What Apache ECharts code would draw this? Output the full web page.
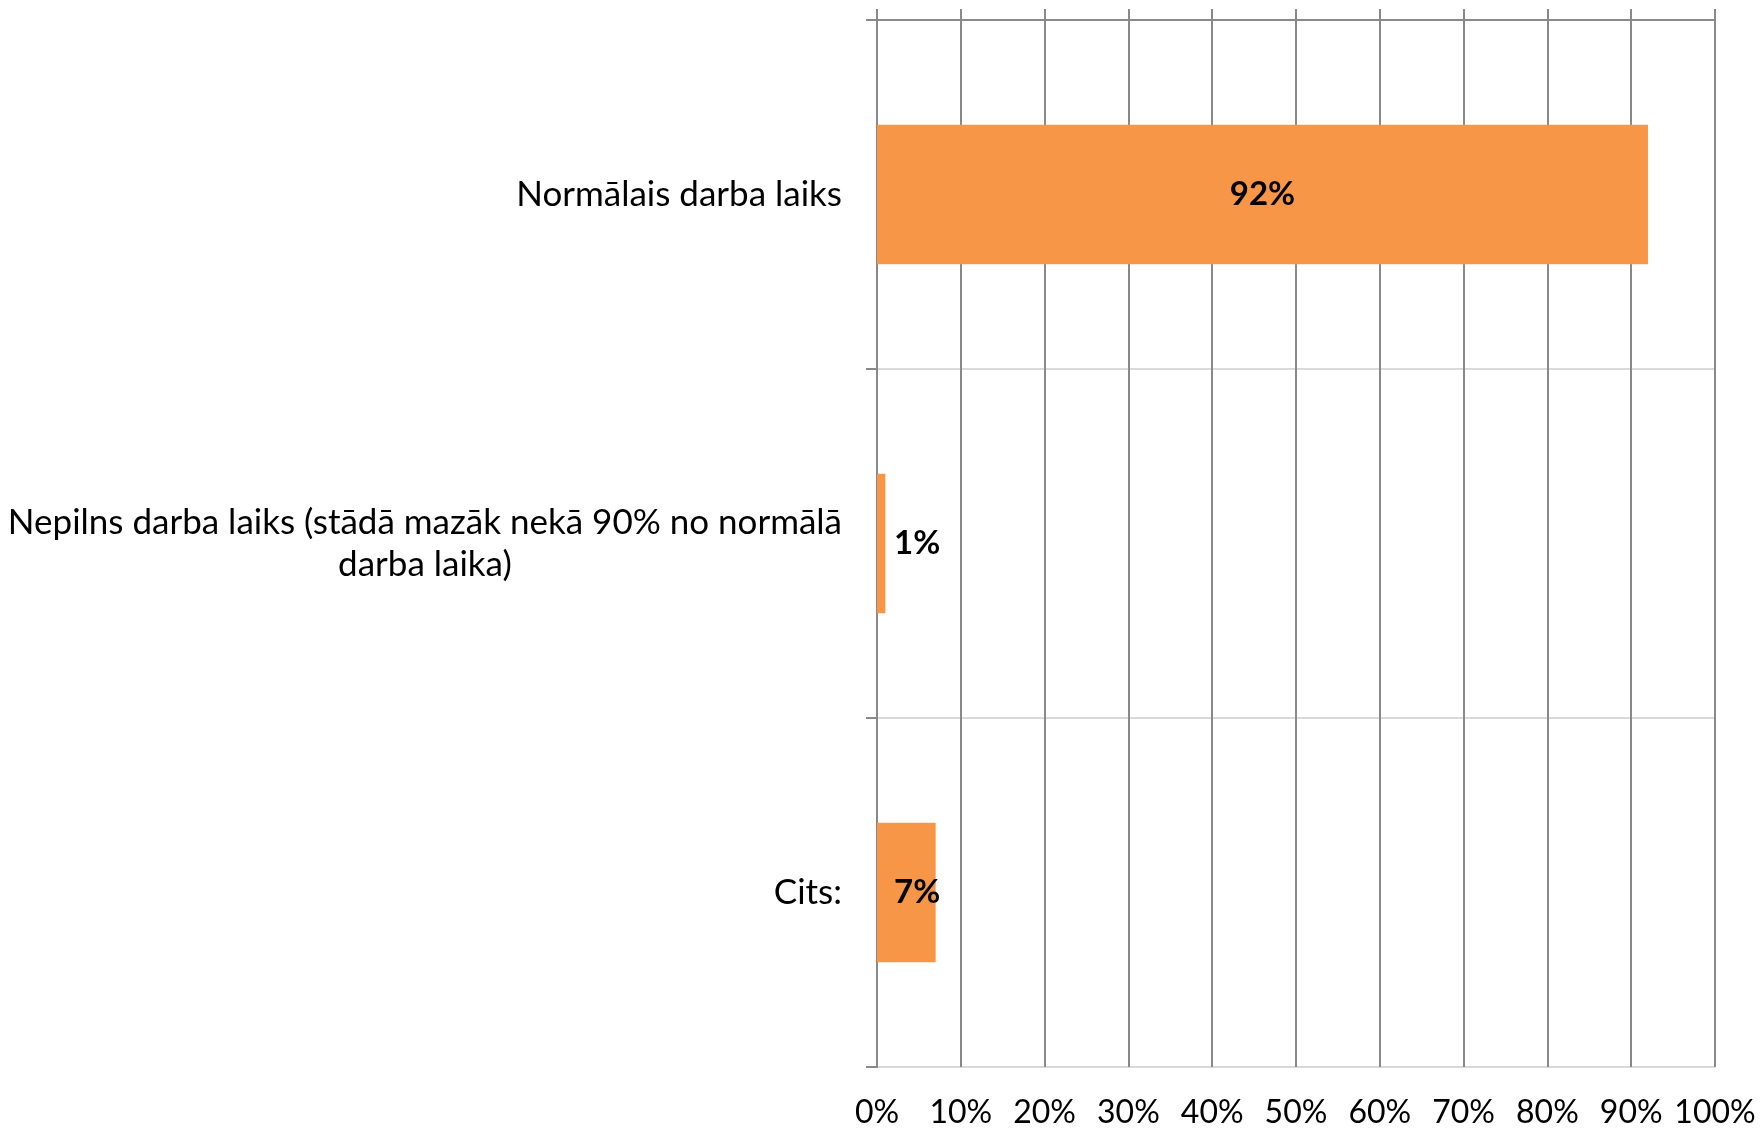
<!DOCTYPE html>
<html>
<head>
<meta charset="utf-8">
<script src="https://cdn.jsdelivr.net/npm/echarts@6/dist/echarts.min.js"></script>
<style>
html,body{margin:0;padding:0;background:#fff;}
#c{width:1764px;height:1132px;}
</style>
</head>
<body>
<div id="c"></div>
<script>
const categories = [
  'Normālais darba laiks',
  'Nepilns darba laiks (stādā mazāk nekā 90% no normālā\ndarba laika)',
  'Cits:'
];
const values = [92, 1, 7];
const tickLabels = ['0%','10%','20%','30%','40%','50%','60%','70%','80%','90%','100%'];

const FONT = 'Lato';
const gridColor = '#898989';
const lightColor = '#d9d9d9';
const barColor = '#F79646';

const chart = echarts.init(document.getElementById('c'), null, {renderer: 'canvas'});

const seriesData = values.map(function (v, i) {
  const item = { value: v };
  if (v < 20) {
    item.label = { position: [17, '50%'], align: 'left', verticalAlign: 'middle' };
  }
  return item;
});

chart.setOption({
  backgroundColor: '#ffffff',
  animation: false,
  grid: { left: 877, right: 49, top: 20, bottom: 65, containLabel: false },
  xAxis: [
    {
      type: 'value', position: 'bottom', min: 0, max: 100, interval: 10,
      axisLine: { show: false },
      axisTick: { show: false },
      axisLabel: {
        margin: 30, color: '#000', fontFamily: FONT, fontSize: 32,
        formatter: function (v) { return tickLabels[Math.round(v / 10)]; }
      },
      splitLine: { show: true, lineStyle: { color: gridColor, width: 2 } }
    },
    {
      type: 'value', position: 'top', min: 0, max: 100, interval: 10,
      axisLine: { show: true, lineStyle: { color: gridColor, width: 2 } },
      axisTick: { show: true, inside: false, length: 11, lineStyle: { color: gridColor, width: 2 } },
      axisLabel: { show: false },
      splitLine: { show: false }
    }
  ],
  yAxis: {
    type: 'category', inverse: true, data: categories,
    axisLine: { show: true, lineStyle: { color: gridColor, width: 2 } },
    axisTick: { show: true, inside: false, length: 11, alignWithLabel: false, lineStyle: { color: gridColor, width: 2 } },
    splitLine: { show: true, lineStyle: { color: lightColor, width: 2 } },
    axisLabel: {
      margin: 35, color: '#000', fontFamily: FONT, fontSize: 35, lineHeight: 42,
      formatter: function (v) {
        return v.split('\n').map(function (s) { return '{a|' + s + '}'; }).join('\n');
      },
      rich: { a: { align: 'center', fontFamily: FONT, fontSize: 35, lineHeight: 42, color: '#000' } }
    }
  },
  series: [{
    type: 'bar', xAxisIndex: 0, data: seriesData,
    barWidth: '40%',
    itemStyle: { color: barColor },
    label: {
      show: true, position: 'inside', formatter: '{c}%',
      color: '#000', fontFamily: FONT, fontWeight: 'bold', fontSize: 33
    }
  }]
});
</script>
</body>
</html>
